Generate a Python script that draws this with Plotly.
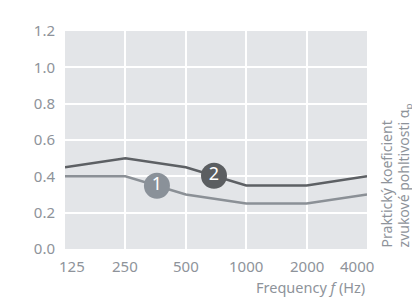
import plotly.graph_objects as go
import math

freqs = [125, 250, 500, 1000, 2000, 4000]
series1 = [0.40, 0.40, 0.30, 0.25, 0.25, 0.30]
series2 = [0.45, 0.50, 0.45, 0.35, 0.35, 0.40]
tick_labels = ["125", "250", "500", "1000", "2000", "4000"]
y_ticks = [0.0, 0.2, 0.4, 0.6, 0.8, 1.0, 1.2]
badge_names = ["1", "2"]
badge_x = [359, 691]
badge_y = [0.348, 0.403]
ytitle_lines = ["Praktický koeficient", "zvukové pohltivosti α<sub>p</sub>"]

c1 = "#8b9096"
c2 = "#5d6064"
txt = "#8e939a"
font_family = "'Noto Sans', sans-serif"

fig = go.Figure()
fig.add_trace(go.Scatter(x=freqs, y=series1, mode="lines",
                         line=dict(color=c1, width=2.5), hoverinfo="skip"))
fig.add_trace(go.Scatter(x=freqs, y=series2, mode="lines",
                         line=dict(color=c2, width=2.5), hoverinfo="skip"))
fig.add_trace(go.Scatter(x=badge_x, y=badge_y, mode="markers+text",
                         text=badge_names, textposition="middle center",
                         textfont=dict(color="white", size=18, family=font_family),
                         marker=dict(size=26, color=["#8a9199", "#5b5e61"], line=dict(width=0)),
                         hoverinfo="skip"))

annotations = []
for i, (f, lab) in enumerate(zip(freqs, tick_labels)):
    shift = 0
    if i == 0:
        shift = 7
    elif i == len(freqs) - 1:
        shift = -10
    annotations.append(dict(x=math.log10(f), xref="x", y=-0.08, yref="paper",
                            text=lab, showarrow=False, xshift=shift,
                            font=dict(size=15, color=txt, family=font_family),
                            xanchor="center", yanchor="middle"))
annotations.append(dict(x=1.0, xref="paper", y=-0.175, yref="paper",
                        text="Frequency <i>f</i> (Hz)", showarrow=False,
                        font=dict(size=14.5, color=txt, family=font_family),
                        xanchor="right", yanchor="middle"))
for xp, line in zip([1.066, 1.124], ytitle_lines):
    annotations.append(dict(x=xp, xref="paper", y=0.0, yref="paper",
                            text=line, showarrow=False, textangle=-90,
                            font=dict(size=14, color=txt, family=font_family),
                            xanchor="center", yanchor="bottom"))

fig.update_layout(
    width=412, height=291,
    margin=dict(l=57, r=53, t=15, b=50),
    paper_bgcolor="white",
    plot_bgcolor="#e3e5e8",
    showlegend=False,
    annotations=annotations,
    xaxis=dict(type="log", range=[math.log10(125), math.log10(4000)],
               tickvals=freqs, showticklabels=False, showgrid=True,
               gridcolor="white", gridwidth=1.5, zeroline=False, showline=False,
               fixedrange=True),
    yaxis=dict(range=[0, 1.2], tickvals=y_ticks, tickformat=".1f",
               showgrid=True, gridcolor="white", gridwidth=1.5, zeroline=False,
               showline=False, ticks="outside", ticklen=6,
               tickcolor="rgba(0,0,0,0)",
               tickfont=dict(size=15, color=txt, family=font_family),
               fixedrange=True),
)

fig.write_html("out.html")
